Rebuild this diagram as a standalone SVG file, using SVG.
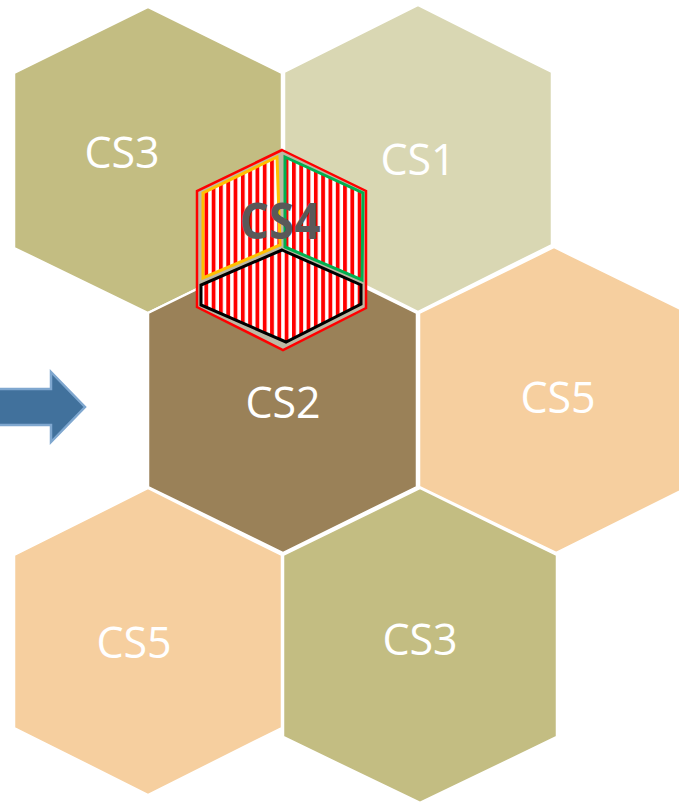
<svg xmlns="http://www.w3.org/2000/svg" width="679" height="808" viewBox="0 0 679 808">
  <defs>
    <pattern id="stripes" patternUnits="userSpaceOnUse" x="0" y="0" width="7.3" height="10">
      <rect x="0" y="0" width="7.3" height="10" fill="#FFFFFF"/>
      <rect x="0" y="0" width="3.8" height="10" fill="#FF0000"/>
    </pattern>
    <style>
      .hex { stroke: #FFFFFF; stroke-width: 2.5; stroke-linejoin: miter; }
      .c3 { fill: #C3BD82; }
      .c1 { fill: #D9D7B3; }
      .c2 { fill: #9A8158; }
      .c5 { fill: #F6CF9F; }
      .lbl { font-family: "Open Sans", "Noto Sans", sans-serif; font-size: 43px; fill: #FFFFFF; text-anchor: middle; }
      .face { fill: url(#stripes); stroke-width: 3; stroke-linejoin: miter; }
    </style>
  </defs>
  <rect x="0" y="0" width="679" height="808" fill="#FFFFFF"/>

  <g id="cs3-top">
    <polygon class="hex c3" points="148,7 282,73 282,248 148,313 14,248 14,73"/>
    <text class="lbl" x="122" y="168">CS3</text>
  </g>
  <g id="cs1">
    <polygon class="hex c1" points="418,5 552,72 552,245 418,312 284,245 284,72"/>
    <text class="lbl" x="418" y="175">CS1</text>
  </g>
  <g id="cs2">
    <polygon class="hex c2" points="283,247 417,313 417,487 283,553 148,487 148,313"/>
    <text class="lbl" x="283" y="418">CS2</text>
  </g>
  <g id="cs5-right">
    <polygon class="hex c5" points="554,247 689,313 689,487 556,553 419,487 419,313"/>
    <text class="lbl" x="558" y="413">CS5</text>
  </g>
  <g id="cs5-bottom">
    <polygon class="hex c5" points="148,488 282,555 282,728 148,795 14,728 14,555"/>
    <text class="lbl" x="134" y="658">CS5</text>
  </g>
  <g id="cs3-bottom">
    <polygon class="hex c3" points="420,488 557,555 557,737 420,803 283,737 283,555"/>
    <text class="lbl" x="420" y="655">CS3</text>
  </g>

  <g id="cs4">
    <polygon points="282,150 366,191 366,308 283,350 197,307 197,191" fill="#BDB8A3" stroke="#FF0000" stroke-width="2.5"/>
    <polygon class="face" points="277,157 203,193 203,278 280,245" stroke="#FFC000"/>
    <polygon class="face" points="285,157 363,193 362,280 285,247" stroke="#00B050"/>
    <polygon class="face" points="282,250 361,285 361,304 286,342 201,305 201,285" stroke="#000000"/>
    <text x="280" y="239" font-family="'Open Sans', 'Noto Sans', sans-serif" font-weight="bold" font-size="50" fill="#595959" text-anchor="middle" textLength="81" lengthAdjust="spacingAndGlyphs">CS4</text>
  </g>

  <g id="connectors">
    <polygon points="-5,389 51,389 51,372 85,407 51,442 51,425 -5,425" fill="#41719C" stroke="#7FA7CF" stroke-width="2.5" stroke-linejoin="miter"/>
  </g>
</svg>
